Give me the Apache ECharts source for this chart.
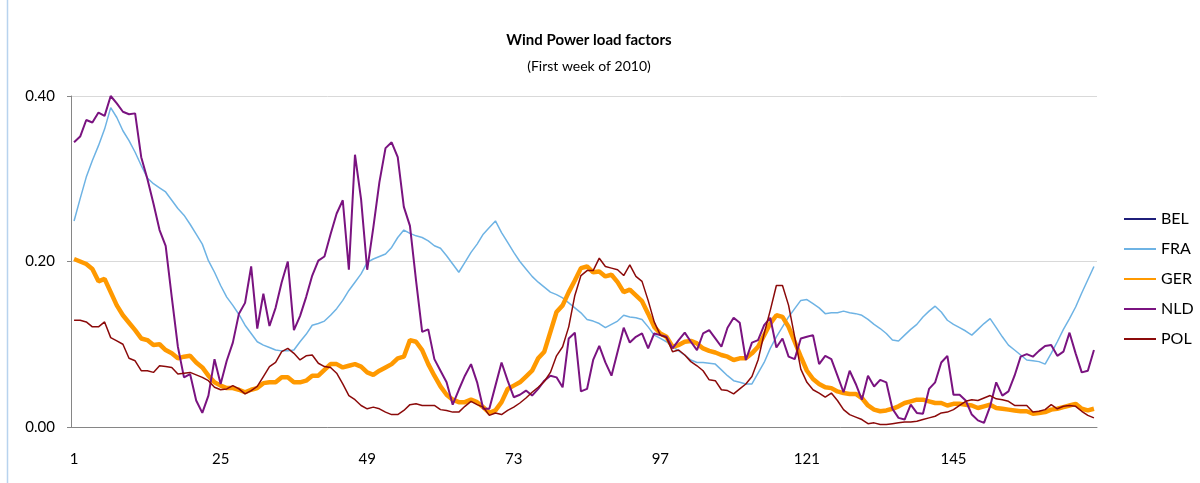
<!DOCTYPE html>
<html>
<head>
<meta charset="utf-8">
<title>Wind Power load factors</title>
<script src="https://cdn.jsdelivr.net/npm/echarts@6/dist/echarts.min.js"></script>
<style>
  html, body { margin: 0; padding: 0; background: #fff; }
  #chart { width: 1200px; height: 483px; }
</style>
</head>
<body>
<div id="chart"></div>
<script>
// hours of the first week of 2010 (1..168)
var hours = Array.from({ length: 168 }, function (_, i) { return String(i + 1); });

// BEL: no visible line in the picture, only the legend entry
var bel = [];

var fra = [
  0.249, 0.276, 0.302, 0.322, 0.340, 0.360, 0.386, 0.374, 0.358, 0.346,
  0.332, 0.316, 0.301, 0.294, 0.289, 0.284, 0.274, 0.264, 0.256, 0.245,
  0.233, 0.221, 0.201, 0.187, 0.171, 0.157, 0.147, 0.136, 0.123, 0.113,
  0.103, 0.099, 0.096, 0.093, 0.092, 0.092, 0.093, 0.103, 0.112, 0.123,
  0.125, 0.128, 0.135, 0.143, 0.153, 0.165, 0.175, 0.185, 0.199, 0.203,
  0.206, 0.209, 0.217, 0.229, 0.238, 0.234, 0.231, 0.229, 0.225, 0.219,
  0.216, 0.207, 0.197, 0.187, 0.199, 0.211, 0.221, 0.233, 0.241, 0.249,
  0.235, 0.223, 0.211, 0.200, 0.191, 0.182, 0.175, 0.169, 0.163, 0.160,
  0.156, 0.150, 0.144, 0.138, 0.130, 0.128, 0.125, 0.120, 0.124, 0.128,
  0.135, 0.133, 0.132, 0.130, 0.121, 0.111, 0.107, 0.103, 0.097, 0.092,
  0.087, 0.081, 0.078, 0.078, 0.077, 0.076, 0.069, 0.062, 0.056, 0.054,
  0.052, 0.052, 0.065, 0.078, 0.095, 0.109, 0.121, 0.133, 0.143, 0.153,
  0.154, 0.149, 0.144, 0.137, 0.138, 0.138, 0.140, 0.138, 0.137, 0.135,
  0.130, 0.124, 0.119, 0.113, 0.105, 0.104, 0.111, 0.118, 0.124, 0.133,
  0.140, 0.146, 0.139, 0.129, 0.124, 0.120, 0.116, 0.111, 0.118, 0.125,
  0.131, 0.120, 0.109, 0.099, 0.093, 0.087, 0.081, 0.080, 0.079, 0.076,
  0.089, 0.103, 0.118, 0.131, 0.145, 0.162, 0.178, 0.194
];

var ger = [
  0.203, 0.200, 0.197, 0.191, 0.176, 0.179, 0.163, 0.147, 0.135, 0.126,
  0.117, 0.107, 0.105, 0.099, 0.100, 0.093, 0.089, 0.083, 0.085, 0.086,
  0.078, 0.072, 0.062, 0.054, 0.050, 0.047, 0.047, 0.045, 0.042, 0.045,
  0.047, 0.053, 0.054, 0.054, 0.060, 0.060, 0.054, 0.054, 0.056, 0.062,
  0.062, 0.069, 0.076, 0.076, 0.072, 0.074, 0.076, 0.073, 0.066, 0.063,
  0.068, 0.072, 0.076, 0.083, 0.085, 0.105, 0.103, 0.093, 0.076, 0.062,
  0.049, 0.039, 0.033, 0.030, 0.030, 0.033, 0.030, 0.024, 0.017, 0.020,
  0.030, 0.046, 0.050, 0.054, 0.061, 0.068, 0.083, 0.091, 0.115, 0.139,
  0.147, 0.163, 0.177, 0.192, 0.194, 0.187, 0.188, 0.182, 0.184, 0.175,
  0.163, 0.166, 0.159, 0.152, 0.137, 0.121, 0.113, 0.109, 0.097, 0.099,
  0.103, 0.104, 0.101, 0.095, 0.092, 0.090, 0.087, 0.085, 0.081, 0.083,
  0.083, 0.089, 0.097, 0.111, 0.125, 0.135, 0.133, 0.121, 0.103, 0.085,
  0.068, 0.058, 0.052, 0.048, 0.047, 0.043, 0.041, 0.040, 0.040, 0.035,
  0.026, 0.021, 0.019, 0.020, 0.022, 0.025, 0.029, 0.031, 0.033, 0.033,
  0.031, 0.029, 0.029, 0.026, 0.028, 0.028, 0.027, 0.026, 0.023, 0.025,
  0.027, 0.023, 0.022, 0.021, 0.020, 0.019, 0.019, 0.016, 0.017, 0.018,
  0.021, 0.022, 0.024, 0.026, 0.028, 0.022, 0.020, 0.022
];

var nld = [
  0.344, 0.351, 0.371, 0.368, 0.380, 0.376, 0.400, 0.391, 0.381, 0.378,
  0.379, 0.326, 0.300, 0.270, 0.238, 0.219, 0.157, 0.097, 0.060, 0.064,
  0.032, 0.017, 0.038, 0.082, 0.052, 0.080, 0.102, 0.137, 0.150, 0.194,
  0.119, 0.161, 0.122, 0.144, 0.175, 0.200, 0.117, 0.134, 0.157, 0.183,
  0.201, 0.206, 0.233, 0.258, 0.274, 0.190, 0.329, 0.275, 0.190, 0.241,
  0.296, 0.337, 0.344, 0.326, 0.266, 0.243, 0.177, 0.115, 0.118, 0.082,
  0.068, 0.054, 0.027, 0.045, 0.062, 0.076, 0.054, 0.022, 0.022, 0.050,
  0.078, 0.056, 0.036, 0.039, 0.044, 0.038, 0.046, 0.056, 0.062, 0.060,
  0.048, 0.107, 0.114, 0.043, 0.046, 0.081, 0.098, 0.078, 0.062, 0.091,
  0.120, 0.102, 0.109, 0.113, 0.095, 0.113, 0.111, 0.109, 0.095, 0.105,
  0.114, 0.103, 0.093, 0.113, 0.117, 0.107, 0.097, 0.120, 0.132, 0.126,
  0.081, 0.102, 0.105, 0.123, 0.132, 0.096, 0.107, 0.085, 0.082, 0.107,
  0.109, 0.111, 0.076, 0.086, 0.082, 0.062, 0.042, 0.068, 0.052, 0.033,
  0.062, 0.049, 0.057, 0.054, 0.022, 0.011, 0.009, 0.027, 0.017, 0.016,
  0.046, 0.054, 0.078, 0.086, 0.039, 0.039, 0.032, 0.015, 0.008, 0.005,
  0.025, 0.054, 0.038, 0.043, 0.062, 0.085, 0.088, 0.085, 0.092, 0.098,
  0.099, 0.086, 0.091, 0.114, 0.089, 0.066, 0.068, 0.093
];

var pol = [
  0.129, 0.129, 0.127, 0.121, 0.121, 0.127, 0.108, 0.104, 0.100, 0.083,
  0.080, 0.068, 0.068, 0.066, 0.074, 0.073, 0.072, 0.064, 0.065, 0.066,
  0.063, 0.060, 0.056, 0.048, 0.045, 0.046, 0.050, 0.046, 0.040, 0.044,
  0.049, 0.061, 0.073, 0.078, 0.091, 0.095, 0.089, 0.081, 0.086, 0.087,
  0.077, 0.073, 0.072, 0.065, 0.052, 0.038, 0.033, 0.026, 0.022, 0.024,
  0.022, 0.018, 0.015, 0.015, 0.020, 0.027, 0.028, 0.026, 0.026, 0.026,
  0.021, 0.020, 0.018, 0.018, 0.025, 0.031, 0.027, 0.024, 0.014, 0.017,
  0.015, 0.020, 0.024, 0.029, 0.035, 0.042, 0.048, 0.055, 0.066, 0.086,
  0.097, 0.121, 0.159, 0.183, 0.189, 0.189, 0.204, 0.194, 0.192, 0.190,
  0.183, 0.196, 0.182, 0.176, 0.153, 0.127, 0.111, 0.108, 0.091, 0.093,
  0.087, 0.079, 0.074, 0.068, 0.057, 0.056, 0.045, 0.044, 0.040, 0.046,
  0.052, 0.061, 0.081, 0.113, 0.141, 0.171, 0.171, 0.147, 0.109, 0.070,
  0.054, 0.045, 0.041, 0.036, 0.041, 0.032, 0.021, 0.015, 0.012, 0.009,
  0.004, 0.005, 0.003, 0.003, 0.004, 0.005, 0.006, 0.006, 0.007, 0.009,
  0.011, 0.013, 0.017, 0.018, 0.021, 0.026, 0.031, 0.033, 0.032, 0.035,
  0.038, 0.034, 0.033, 0.031, 0.026, 0.026, 0.026, 0.018, 0.019, 0.021,
  0.027, 0.022, 0.025, 0.026, 0.025, 0.019, 0.014, 0.011
];

var yTicks = [0, 0.2, 0.4];

var FONT = "Lato, 'Liberation Sans', sans-serif";

var chart = echarts.init(document.getElementById("chart"), null, { renderer: "canvas" });

// one line series, same look as the Excel original
function lineSeries(name, data, color, width) {
  return {
    name: name,
    type: "line",
    data: data,
    symbol: "none",
    smooth: false,
    animation: false,
    lineStyle: { color: color, width: width },
    itemStyle: { color: color }
  };
}

chart.setOption({
  backgroundColor: "#fff",
  textStyle: { fontFamily: FONT, color: "#000" },
  title: {
    text: "Wind Power load factors",
    subtext: "(First week of 2010)",
    left: 584,
    top: 28,
    textAlign: "center",
    itemGap: 11,
    textStyle: { fontFamily: FONT, fontSize: 15, fontWeight: "bold", color: "#000" },
    subtextStyle: { fontFamily: FONT, fontSize: 14, color: "#000" }
  },
  legend: {
    orient: "vertical",
    left: 1118,
    top: 206,
    itemWidth: 32,
    itemHeight: 14,
    itemGap: 14,
    // hide the marker drawn on the legend line, keep only the line
    itemStyle: { opacity: 0 },
    textStyle: { fontFamily: FONT, fontSize: 16, color: "#000" },
    data: ["BEL", "FRA", "GER", "NLD", "POL"]
  },
  grid: { left: 71, right: 103, top: 96, bottom: 56, containLabel: false },
  xAxis: {
    type: "category",
    data: hours,
    boundaryGap: true,
    axisLine: { lineStyle: { color: "#868686", width: 1 } },
    axisTick: { interval: 0, length: 6, lineStyle: { color: "#868686" } },
    axisLabel: { interval: 23, margin: 25, fontSize: 15, color: "#000", fontFamily: FONT },
    splitLine: { show: false }
  },
  yAxis: {
    type: "value",
    min: yTicks[0],
    max: yTicks[yTicks.length - 1],
    interval: 0.2,
    axisLine: { show: true, lineStyle: { color: "#868686", width: 1 } },
    axisTick: { show: true, length: 4, lineStyle: { color: "#868686" } },
    axisLabel: {
      margin: 16, fontSize: 15, color: "#000", fontFamily: FONT,
      formatter: function (v) { return v.toFixed(2); }
    },
    splitLine: { show: true, lineStyle: { color: "#d9d9d9", width: 1 } }
  },
  graphic: [
    {
      type: "line",
      shape: { x1: 7.5, y1: 0, x2: 7.5, y2: 483 },
      style: { stroke: "#b8d3ee", lineWidth: 1.5 },
      silent: true
    }
  ],
  series: [
    lineSeries("BEL", bel, "#1f1f7a", 1.5),
    lineSeries("FRA", fra, "#6eb3e4", 1.5),
    lineSeries("GER", ger, "#ff9900", 4.5),
    lineSeries("NLD", nld, "#7a1380", 2),
    lineSeries("POL", pol, "#8b0a0a", 1.5)
  ]
});
</script>
</body>
</html>
